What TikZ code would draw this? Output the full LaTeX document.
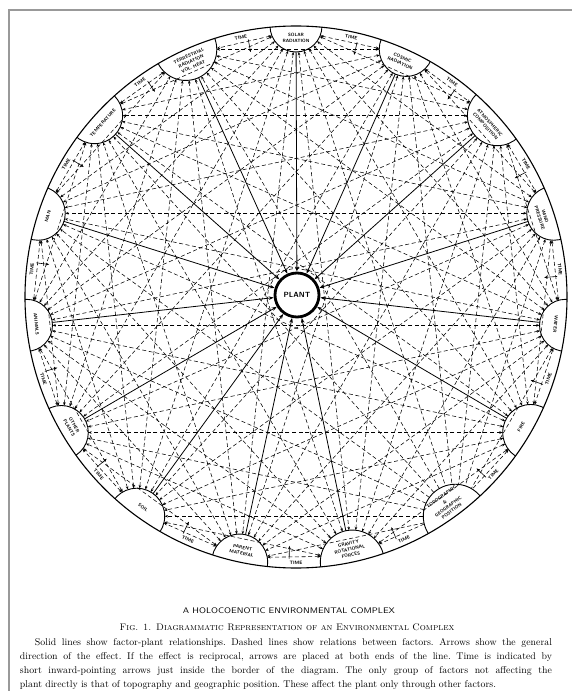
\documentclass[tikz,border=0pt]{standalone}
\usepackage{graphicx}
\usetikzlibrary{arrows.meta}
\begin{document}
\begin{tikzpicture}[x=1pt,y=1pt,
  factor/.style={circle,inner sep=0pt,outer sep=0pt},
  flabel/.style={font=\fontsize{4.6}{5.8}\selectfont\sffamily\bfseries,align=center,inner sep=0pt},
  tlabel/.style={font=\fontsize{4.8}{5.4}\selectfont\sffamily\bfseries,inner sep=0pt},
  rel/.style={line width=0.55pt,dash pattern=on 4pt off 2.6pt,>={Stealth[length=3.4pt,width=2.6pt]}},
  toplant/.style={line width=0.8pt,-{Stealth[length=5pt,width=3.6pt]}},
  timearrow/.style={line width=0.6pt,-{Stealth[length=3.4pt,width=2.8pt]}},
  frameline/.style={gray!80,line width=1.2pt},
]
\useasboundingbox (-296,297) rectangle (276,-394);
% frame
\coordinate (fr1) at (276,287);
\coordinate (fr2) at (-287,287);
\coordinate (fr3) at (-287,-394);
\draw[frameline] (fr1) -- (fr2) -- (fr3);

% big circle
\draw[line width=1.1pt] (0,0) circle (271);

% factor nodes (index / bump radius)
\def\bumplist{0/26,1/27,2/30,3/27,4/26,5/28,6/32,7/32,8/28,9/28,10/27,11/26,12/27,13/28,14/31}
\foreach \i/\rad in \bumplist{
  \pgfmathsetmacro\a{90-24*\i}
  \node[factor,minimum size=2*\rad] (f\i) at (\a:271) {};
}
% bumps
\begin{scope}
  \clip (0,0) circle (271);
  \foreach \i/\rad in \bumplist{
    \draw[line width=0.9pt] (f\i.center) circle[radius=\rad];
  }
\end{scope}

% plant
\node[circle,minimum size=44pt,inner sep=0pt,line width=2.8pt,draw,fill=white,
      font=\fontsize{7.5}{8}\selectfont\sffamily\bfseries] (plant) at (1,2) {PLANT};

% dashed factor-factor relations
\foreach \i in {0,...,13}{
  \pgfmathtruncatemacro\js{\i+1}
  \foreach \j in {\js,...,14}{
    \pgfmathtruncatemacro\dif{\j-\i}
    \ifnum\i=6 \tikzset{cur/.style={->}}\else
      \ifnum\j=6 \tikzset{cur/.style={<-}}\else
        \tikzset{cur/.style={<->}}\fi\fi
    \ifnum\dif=1
      \pgfmathtruncatemacro\aa{mod(90-24*\i-112+720,360)}
      \pgfmathtruncatemacro\bb{mod(90-24*\j+112+720,360)}
      \draw[rel,cur] (f\i.\aa) -- (f\j.\bb);
    \else\ifnum\dif=14
      \pgfmathtruncatemacro\aa{mod(90-24*\j-112+720,360)}
      \pgfmathtruncatemacro\bb{mod(90-24*\i+112+720,360)}
      \draw[rel,cur] (f\i.\bb) -- (f\j.\aa);
    \else
      \draw[rel,cur] (f\i) -- (f\j);
    \fi\fi
  }
}

% solid factor-plant relations
\foreach \i in {0,...,14}{
  \ifnum\i=6\else \draw[toplant] (f\i) -- (plant); \fi
}

% factor labels
\foreach \i/\d/\r/\t in {
  0/12/0/{SOLAR\\RADIATION},
  1/12/-24/{COSMIC\\RADIATION},
  2/13/-48/{ATMOSPHERIC\\COMPOSITION},
  3/12/-72/{WIND\\PRESSURE},
  4/10/-96/{WATER},
  5/11/60/{FIRE},
  6/15/36/{TOPOGRAPHIC\\\&\\GEOGRAPHIC\\POSITION},
  7/13/12/{GRAVITY\\ROTATIONAL\\FORCES},
  8/12/-12/{PARENT\\MATERIAL},
  9/11/-36/{SOIL},
  10/12/-60/{OTHER\\PLANTS},
  11/10/-84/{ANIMALS},
  12/10/72/{MAN},
  13/11/48/{TEMPERATURE},
  14/13/24/{TERRESTRIAL\\RADIATION\\VOL. HEAT}}{
  \pgfmathsetmacro\a{90-24*\i}
  \node[flabel,rotate=\r] (l\i) at (\a:{271-\d}) {\t};
}

% time labels
\foreach \i in {0,...,14}{
  \pgfmathsetmacro\m{90-24*\i-12}
  \pgfmathsetmacro\rr{sin(\m)>=0 ? \m-90 : \m+90}
  \node[tlabel,rotate=\rr] (t\i) at (\m:265.5) {TIME};
  \coordinate (ta\i) at ({\m-1.5}:262);
  \coordinate (tb\i) at ({\m-1.5}:249);
  \draw[timearrow] (ta\i) -- (tb\i);
}

% captions
\node[inner sep=0pt] (cap1) at (-7,-314)
  {\resizebox{212pt}{5.8pt}{\sffamily A HOLOCOENOTIC ENVIRONMENTAL COMPLEX}};
\node[inner sep=0pt,font=\fontsize{9.5}{11}\selectfont] (cap2) at (-9,-330)
  {\textsc{Fig. 1. Diagrammatic Representation of an Environmental Complex}};
\node[anchor=north,text width=532pt,align=justify,inner sep=0pt,
      font=\fontsize{9.8}{14.2}\selectfont] (para) at (-10,-341)
  {\frenchspacing\hspace*{15pt}Solid lines show factor-plant relationships. Dashed lines show relations between factors. Arrows show the general\linebreak
   direction of the effect. If the effect is reciprocal, arrows are placed at both ends of the line. Time is indicated by\linebreak
   short inward-pointing arrows just inside the border of the diagram. The only group of factors not affecting the\linebreak
   plant directly is that of topography and geographic position. These affect the plant only through other factors.};
\end{tikzpicture}
\end{document}
